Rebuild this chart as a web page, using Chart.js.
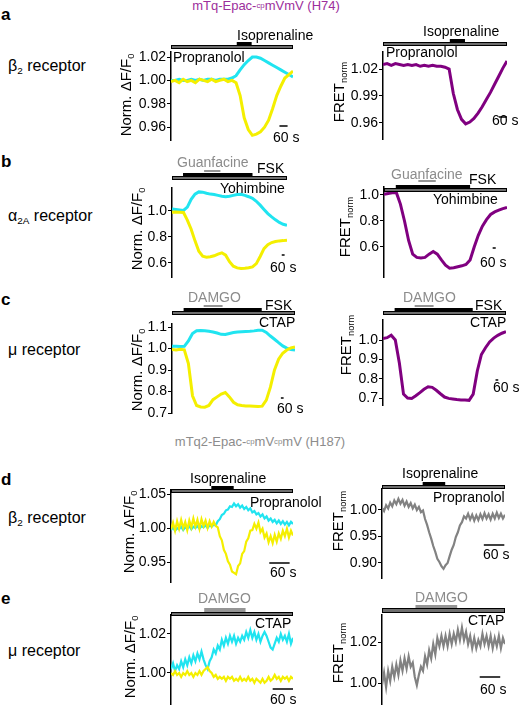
<!DOCTYPE html>
<html>
<head>
<meta charset="utf-8">
<script src="https://cdn.jsdelivr.net/npm/chart.js@4"></script>
<style>
  body { margin: 0; width: 519px; height: 705px; position: relative; overflow: hidden; background: #fff;
         font-family: "Liberation Sans", Arial, sans-serif; color: #000; }
  canvas { position: absolute; }
  .t { position: absolute; white-space: nowrap; line-height: 1; font-size: 14px; transform: translateY(-50%); z-index: 2; }
  .c { transform: translate(-50%, -50%); }
  .k { font-weight: bold; font-size: 17px; }
  .rc { font-size: 16px; }
  .g { color: #8c8c8c; }
  .r { position: absolute; white-space: nowrap; line-height: 1; font-size: 15px; z-index: 2;
       transform: translate(-50%, -50%) rotate(-90deg); }
  sub { font-size: 0.62em; vertical-align: baseline; position: relative; top: 0.3em; }
  sup { font-size: 0.6em; vertical-align: baseline; position: relative; top: -0.3em; }
</style>
</head>
<body>

<canvas id="aL"></canvas><canvas id="aR"></canvas>
<canvas id="bL"></canvas><canvas id="bR"></canvas>
<canvas id="cL"></canvas><canvas id="cR"></canvas>
<canvas id="dL"></canvas><canvas id="dR"></canvas>
<canvas id="eL"></canvas><canvas id="eR"></canvas>

<!-- titles -->
<div class="t c" style="left:266px;top:5px;font-size:13px;color:#9c2f9c">mTq-Epac-<sup>cp</sup>mVmV (H74)</div>
<div class="t c g" style="left:260px;top:441px;font-size:13px">mTq2-Epac-<sup>cp</sup>mV<sup>cp</sup>mV (H187)</div>

<!-- panel letters and receptors -->
<div class="t k" style="left:1px;top:14px">a</div>
<div class="t k" style="left:1px;top:161px">b</div>
<div class="t k" style="left:1px;top:299px">c</div>
<div class="t k" style="left:1px;top:479px">d</div>
<div class="t k" style="left:1px;top:598px">e</div>
<div class="t rc" style="left:8px;top:66px">β<sub>2</sub> receptor</div>
<div class="t rc" style="left:8px;top:216px">α<sub>2A</sub> receptor</div>
<div class="t rc" style="left:8px;top:350px">μ receptor</div>
<div class="t rc" style="left:8px;top:518px">β<sub>2</sub> receptor</div>
<div class="t rc" style="left:8px;top:651px">μ receptor</div>

<!-- axis titles -->
<div class="r" style="left:126px;top:95px">Norm. ΔF/F<sub>0</sub></div>
<div class="r" style="left:137px;top:229px">Norm. ΔF/F<sub>0</sub></div>
<div class="r" style="left:137px;top:370px">Norm. ΔF/F<sub>0</sub></div>
<div class="r" style="left:129px;top:532px">Norm. ΔF/F<sub>0</sub></div>
<div class="r" style="left:130px;top:657px">Norm. ΔF/F<sub>0</sub></div>
<div class="r" style="left:339px;top:92px">FRET<sub>norm</sub></div>
<div class="r" style="left:345px;top:227px">FRET<sub>norm</sub></div>
<div class="r" style="left:346px;top:345px">FRET<sub>norm</sub></div>
<div class="r" style="left:338px;top:521px">FRET<sub>norm</sub></div>
<div class="r" style="left:338px;top:653px">FRET<sub>norm</sub></div>

<!-- a -->
<div class="t" style="left:237px;top:35px">Isoprenaline</div>
<div class="t" style="left:173px;top:57px">Propranolol</div>
<div class="t" style="left:273px;top:137px">60 s</div>
<div class="t" style="left:423px;top:31px">Isoprenaline</div>
<div class="t" style="left:386px;top:52px">Propranolol</div>
<div class="t" style="left:492px;top:120px">60 s</div>
<!-- b -->
<div class="t g" style="left:177px;top:162px">Guanfacine</div>
<div class="t" style="left:257px;top:168px">FSK</div>
<div class="t" style="left:220px;top:188px">Yohimbine</div>
<div class="t" style="left:270px;top:267px">60 s</div>
<div class="t g" style="left:391px;top:174px">Guanfacine</div>
<div class="t" style="left:469px;top:179px">FSK</div>
<div class="t" style="left:433px;top:199px">Yohimbine</div>
<div class="t" style="left:480px;top:262px">60 s</div>
<!-- c -->
<div class="t g" style="left:188px;top:297px">DAMGO</div>
<div class="t" style="left:265px;top:305px">FSK</div>
<div class="t" style="left:259px;top:322px">CTAP</div>
<div class="t" style="left:277px;top:408px">60 s</div>
<div class="t g" style="left:403px;top:297px">DAMGO</div>
<div class="t" style="left:475px;top:305px">FSK</div>
<div class="t" style="left:470px;top:322px">CTAP</div>
<div class="t" style="left:493px;top:387px">60 s</div>
<!-- d -->
<div class="t" style="left:190px;top:478px">Isoprenaline</div>
<div class="t" style="left:250px;top:502px">Propranolol</div>
<div class="t" style="left:270px;top:572px">60 s</div>
<div class="t" style="left:402px;top:473px">Isoprenaline</div>
<div class="t" style="left:433px;top:497px">Propranolol</div>
<div class="t" style="left:483px;top:554px">60 s</div>
<!-- e -->
<div class="t g" style="left:198px;top:598px">DAMGO</div>
<div class="t" style="left:255px;top:623px">CTAP</div>
<div class="t" style="left:270px;top:699px">60 s</div>
<div class="t g" style="left:415px;top:597px">DAMGO</div>
<div class="t" style="left:468px;top:620px">CTAP</div>
<div class="t" style="left:480px;top:689px">60 s</div>

<script>
// time points (s)
const tA = [0,30,60,90,120,150,180,210,240,270,300,330,360,390,420,450,480,510,540,570,600,630,660,690,720,750,780,810,840,870,900];
const tB = [0,80,160,240,320,400,480,560,640,720,800,880,960,1040,1120,1200,1280,1360,1440,1520,1600,1680,1760,1840,1920,2000,2080,2160,2240,2320,2400];
const tC = [0,90,180,270,360,450,540,630,720,810,900,990,1080,1170,1260,1350,1440,1530,1620,1710,1800,1890,1980,2070,2160,2250,2340,2430,2520,2610,2700];
const tD = [0,6,12,18,24,30,36,42,48,54,60,66,72,78,84,90,96,102,108,114,120,126,132,138,144,150,156,162,168,174,180,
            186,192,198,204,210,216,222,228,234,240,246,252,258,264,270,276,282,288,294,300,306,312,318,324,330,336,342,348,354,360];

// a: beta2, H74
const aCyan = [1.000,1.000,1.001,1.000,1.000,1.001,1.000,1.001,1.000,1.001,1.001,1.000,1.001,1.001,1.001,1.002,1.004,1.009,1.0135,1.017,1.020,1.020,1.019,1.017,1.015,1.013,1.011,1.009,1.007,1.005,1.003];
const aYellow = [0.999,1.000,0.998,1.001,0.999,1.000,0.998,1.001,1.000,0.999,1.001,0.999,1.000,1.001,0.999,1.000,0.998,0.987,0.968,0.958,0.953,0.954,0.956,0.960,0.966,0.976,0.987,0.995,1.002,1.005,1.008];
const aFret = [1.025,1.026,1.024,1.026,1.025,1.024,1.025,1.024,1.025,1.023,1.024,1.023,1.024,1.023,1.023,1.022,1.020,0.993,0.975,0.964,0.959,0.961,0.965,0.971,0.978,0.986,0.994,1.003,1.012,1.021,1.029];

// b: alpha2A, H74
const bCyan = [1.015,1.012,1.008,1.004,1.03,1.09,1.13,1.147,1.145,1.137,1.130,1.127,1.12,1.113,1.11,1.113,1.12,1.127,1.128,1.12,1.11,1.098,1.075,1.045,1.012,0.98,0.955,0.932,0.912,0.898,0.89];
const bYellow = [0.99,0.992,0.99,0.988,0.93,0.86,0.77,0.69,0.652,0.645,0.648,0.655,0.668,0.678,0.66,0.61,0.575,0.562,0.558,0.56,0.563,0.57,0.595,0.65,0.71,0.74,0.757,0.765,0.77,0.772,0.775];
const bFret = [1.005,1.012,1.018,1.02,0.93,0.80,0.65,0.545,0.52,0.515,0.52,0.545,0.565,0.545,0.50,0.46,0.437,0.44,0.448,0.455,0.465,0.50,0.60,0.69,0.76,0.81,0.85,0.87,0.883,0.895,0.905];

// c: mu, H74
const cCyan = [1.011,1.01,1.009,1.01,1.035,1.07,1.083,1.084,1.083,1.08,1.077,1.072,1.066,1.065,1.07,1.074,1.077,1.078,1.079,1.08,1.082,1.085,1.085,1.075,1.058,1.043,1.027,1.012,1.002,0.995,0.993];
const cYellow = [0.995,0.993,0.996,0.994,0.93,0.78,0.735,0.728,0.727,0.735,0.762,0.775,0.788,0.795,0.775,0.75,0.738,0.735,0.733,0.732,0.731,0.73,0.732,0.76,0.82,0.9,0.95,0.978,0.993,1.003,1.007];
const cFret = [1.008,1.012,1.025,1.0,0.88,0.72,0.70,0.698,0.712,0.728,0.745,0.758,0.755,0.74,0.722,0.705,0.698,0.695,0.692,0.69,0.69,0.688,0.72,0.84,0.925,0.96,0.99,1.01,1.024,1.035,1.043];

// d: beta2, H187
const dCyan = [0.997,1.001,0.996,1.000,0.998,1.002,0.997,1.001,0.999,1.003,
               0.998,1.002,1.000,1.003,0.999,1.003,1.001,1.004,1.000,1.004,
               1.002,1.005,1.004,1.010,1.013,1.019,1.021,1.026,1.027,1.032,
               1.031,1.036,1.032,1.035,1.030,1.033,1.028,1.031,1.026,1.029,
               1.023,1.025,1.020,1.022,1.017,1.020,1.014,1.017,1.011,1.014,
               1.009,1.012,1.007,1.011,1.006,1.010,1.005,1.009,1.004,1.009,1.006];
const dYellow = [0.998,1.008,0.996,1.010,0.999,1.012,1.000,1.009,0.997,1.011,
                 1.001,1.014,1.002,1.012,0.999,1.013,1.003,1.011,1.000,1.010,
                 1.002,1.009,1.003,1.001,0.988,0.982,0.968,0.962,0.951,0.946,
                 0.936,0.934,0.932,0.944,0.948,0.962,0.966,0.980,0.985,0.996,
                 0.997,1.006,0.999,1.008,0.994,0.999,0.986,0.992,0.979,0.988,
                 0.978,0.990,0.980,0.992,0.984,0.996,0.988,0.999,0.986,0.996,0.989];
const dFret = [1.004,0.998,1.009,1.003,1.014,1.007,1.018,1.011,1.021,1.012,
               1.019,1.008,1.016,1.006,1.013,1.003,1.010,1.000,1.006,0.996,
               0.999,0.983,0.972,0.958,0.946,0.932,0.921,0.908,0.902,0.894,
               0.889,0.896,0.900,0.913,0.925,0.934,0.949,0.958,0.971,0.977,
               0.988,0.984,0.993,0.982,0.991,0.980,0.990,0.981,0.992,0.983,
               0.994,0.984,0.992,0.982,0.993,0.984,0.995,0.985,0.993,0.984,0.991];

// e: mu, H187
const eCyan = [1.002,1.005,1.001,1.004,1.002,1.006,1.003,1.007,1.004,1.008,
               1.005,1.009,1.006,1.010,1.007,1.011,1.007,1.004,1.002,1.006,
               1.008,1.012,1.010,1.014,1.012,1.017,1.014,1.018,1.015,1.019,
               1.016,1.019,1.015,1.018,1.016,1.019,1.017,1.021,1.018,1.022,
               1.018,1.021,1.017,1.020,1.016,1.019,1.021,1.019,1.016,1.013,
               1.012,1.015,1.018,1.016,1.020,1.017,1.019,1.016,1.020,1.015,1.018];
const eYellow = [1.000,0.999,1.001,0.999,1.000,0.998,1.000,0.999,1.001,0.999,
                 1.000,0.998,1.000,0.999,1.001,0.999,1.001,1.002,1.003,1.001,
                 1.000,0.998,0.999,0.997,0.998,0.997,0.998,0.996,0.998,0.997,
                 0.998,0.996,0.997,0.996,0.998,0.996,0.997,0.996,0.998,0.996,
                 0.997,0.995,0.997,0.996,0.995,0.997,0.995,0.996,0.998,0.996,
                 0.997,0.999,0.997,0.998,0.996,0.998,0.997,0.998,0.996,0.998,0.997];
const eFret = [0.999,1.005,0.998,1.006,1.001,1.008,1.003,1.009,1.004,1.011,
               1.006,1.012,1.007,1.013,1.008,1.010,1.003,0.999,1.004,1.008,
               1.006,1.013,1.009,1.016,1.012,1.019,1.014,1.022,1.018,1.023,
               1.018,1.023,1.018,1.024,1.019,1.024,1.020,1.026,1.021,1.027,
               1.021,1.025,1.019,1.023,1.017,1.022,1.017,1.021,1.018,1.024,
               1.019,1.023,1.018,1.023,1.017,1.022,1.018,1.023,1.017,1.022,1.019];

// drug application windows (s)
const propA = [0, 900], isoA = [485, 595];
const yohB = [0, 2400], fskB = [230, 1680], guanB = [670, 1010];
const ctapC = [0, 2700], fskC = [255, 1970], damgoC = [695, 1110];
const propD = [0, 360], isoD = [119, 185];
const ctapE = [0, 360], damgoE = [98, 220];

const CYAN = '#20e4f0', YELLOW = '#f4ef00', PURPLE = '#800080', GREY = '#828282';

Chart.defaults.font.family = '"Liberation Sans", Arial, sans-serif';

// bars above the trace + 60 s scale bar
const drugBars = {
  id: 'drugBars',
  afterDatasetsDraw(chart, args, opts) {
    const ctx = chart.ctx, xs = chart.scales.x;
    ctx.save();
    opts.bars.forEach(b => {
      const x0 = xs.getPixelForValue(b.t[0]), x1 = xs.getPixelForValue(b.t[1]);
      const y = b.y - opts.top;
      if (b.kind === 'hatch') {
        ctx.fillStyle = '#6e6e6e';
        ctx.fillRect(x0, y, x1 - x0, b.h);
        ctx.strokeStyle = '#000';
        ctx.lineWidth = 1;
        ctx.strokeRect(x0 + 0.5, y + 0.5, x1 - x0 - 1, b.h - 1);
      } else {
        ctx.fillStyle = b.kind === 'grey' ? '#959595' : '#000';
        ctx.fillRect(x0, y, x1 - x0, b.h);
      }
    });
    const s = opts.scale;
    ctx.strokeStyle = '#000';
    ctx.lineWidth = 1.5;
    ctx.beginPath();
    ctx.moveTo(xs.getPixelForValue(s.t), s.y - opts.top);
    ctx.lineTo(xs.getPixelForValue(s.t + 60), s.y - opts.top);
    ctx.stroke();
    ctx.restore();
  }
};

function trace(id, p) {
  const AX = 40, PT = 30, PB = 10, PR = 4;
  const cv = document.getElementById(id);
  cv.width = AX + (p.x1 - p.x0) + PR;
  cv.height = PT + (p.y1 - p.y0) + PB;
  cv.style.left = (p.x0 - AX) + 'px';
  cv.style.top = (p.y0 - PT) + 'px';
  new Chart(cv, {
    type: 'line',
    data: {
      datasets: p.series.map(s => ({
        data: s.t.map((t, i) => ({ x: t, y: s.v[i] })),
        borderColor: s.color,
        borderWidth: s.w,
        pointRadius: 0,
        tension: 0,
        fill: false
      }))
    },
    options: {
      responsive: false,
      animation: false,
      events: [],
      layout: { padding: { top: PT, bottom: PB, left: 0, right: PR } },
      plugins: {
        legend: { display: false },
        tooltip: { enabled: false },
        drugBars: { top: p.y0 - PT, bars: p.bars, scale: p.scale }
      },
      scales: {
        x: { type: 'linear', display: false, min: 0, max: p.T },
        y: {
          min: p.min, max: p.max,
          afterFit: sc => { sc.width = AX; },
          afterBuildTicks: sc => { sc.ticks = p.ticks.map(v => ({ value: v })); },
          ticks: { callback: v => v.toFixed(p.dec), color: '#000', font: { size: 14 }, padding: 1 },
          grid: { drawOnChartArea: false, drawTicks: true, tickLength: 4, color: '#000', lineWidth: 1 },
          border: { color: '#000', width: 1.5 }
        }
      }
    },
    plugins: [drugBars]
  });
}

trace('aL', { x0: 171, x1: 293, y0: 52, y1: 140, min: 0.949, max: 1.0243, ticks: [0.96, 0.98, 1.00, 1.02], dec: 2, T: 900,
  series: [{ t: tA, v: aYellow, color: YELLOW, w: 3 }, { t: tA, v: aCyan, color: CYAN, w: 3 }],
  bars: [{ t: propA, y: 45, h: 4, kind: 'hatch' }, { t: isoA, y: 42, h: 3, kind: 'black' }],
  scale: { t: 800, y: 126 } });
trace('aR', { x0: 383, x1: 507, y0: 52, y1: 139, min: 0.9422, max: 1.0389, ticks: [0.96, 0.99, 1.02], dec: 2, T: 900,
  series: [{ t: tA, v: aFret, color: PURPLE, w: 3 }],
  bars: [{ t: propA, y: 42, h: 4, kind: 'hatch' }, { t: isoA, y: 39, h: 3, kind: 'black' }],
  scale: { t: 840, y: 117 } });

trace('bL', { x0: 172, x1: 287, y0: 188, y1: 277, min: 0.492, max: 1.177, ticks: [0.6, 0.8, 1.0], dec: 1, T: 2400,
  series: [{ t: tB, v: bYellow, color: YELLOW, w: 3 }, { t: tB, v: bCyan, color: CYAN, w: 3 }],
  bars: [{ t: yohB, y: 176, h: 4, kind: 'hatch' }, { t: fskB, y: 173, h: 3, kind: 'black' }, { t: guanB, y: 170, h: 2, kind: 'grey' }],
  scale: { t: 2290, y: 255 } });
trace('bR', { x0: 384, x1: 507, y0: 187, y1: 277, min: 0.369, max: 1.0615, ticks: [0.6, 0.8, 1.0], dec: 1, T: 2400,
  series: [{ t: tB, v: bFret, color: PURPLE, w: 3 }],
  bars: [{ t: yohB, y: 188, h: 4, kind: 'hatch' }, { t: fskB, y: 185, h: 3, kind: 'black' }, { t: guanB, y: 180, h: 2, kind: 'grey' }],
  scale: { t: 2120, y: 248 } });

trace('cL', { x0: 172, x1: 295, y0: 324, y1: 413, min: 0.7, max: 1.114, ticks: [0.7, 0.8, 0.9, 1.0, 1.1], dec: 1, T: 2700,
  series: [{ t: tC, v: cYellow, color: YELLOW, w: 3 }, { t: tC, v: cCyan, color: CYAN, w: 3 }],
  bars: [{ t: ctapC, y: 311, h: 4, kind: 'hatch' }, { t: fskC, y: 308, h: 3, kind: 'black' }, { t: damgoC, y: 305, h: 2, kind: 'grey' }],
  scale: { t: 2390, y: 398 } });
trace('cR', { x0: 383, x1: 506, y0: 320, y1: 405, min: 0.6638, max: 1.1035, ticks: [0.7, 0.8, 0.9, 1.0], dec: 1, T: 2700,
  series: [{ t: tC, v: cFret, color: PURPLE, w: 3 }],
  bars: [{ t: ctapC, y: 311, h: 4, kind: 'hatch' }, { t: fskC, y: 308, h: 3, kind: 'black' }, { t: damgoC, y: 305, h: 2, kind: 'grey' }],
  scale: { t: 2470, y: 380 } });

trace('dL', { x0: 171, x1: 293, y0: 490, y1: 582, min: 0.9206, max: 1.0559, ticks: [0.95, 1.00, 1.05], dec: 2, T: 360,
  series: [{ t: tD, v: dYellow, color: YELLOW, w: 2.2 }, { t: tD, v: dCyan, color: CYAN, w: 2.2 }],
  bars: [{ t: propD, y: 489, h: 4, kind: 'hatch' }, { t: isoD, y: 486, h: 3, kind: 'black' }],
  scale: { t: 290, y: 563 } });
trace('dR', { x0: 382, x1: 505, y0: 489, y1: 578, min: 0.8717, max: 1.0396, ticks: [0.90, 0.95, 1.00], dec: 2, T: 360,
  series: [{ t: tD, v: dFret, color: GREY, w: 2.2 }],
  bars: [{ t: propD, y: 485, h: 4, kind: 'hatch' }, { t: isoD, y: 482, h: 3, kind: 'black' }],
  scale: { t: 298, y: 545 } });

trace('eL', { x0: 171, x1: 293, y0: 615, y1: 705, min: 0.9836, max: 1.0297, ticks: [1.00, 1.02], dec: 2, T: 360,
  series: [{ t: tD, v: eYellow, color: YELLOW, w: 2.2 }, { t: tD, v: eCyan, color: CYAN, w: 2.2 }],
  bars: [{ t: ctapE, y: 612, h: 4, kind: 'hatch' }, { t: damgoE, y: 608, h: 4, kind: 'grey' }],
  scale: { t: 300, y: 689 } });
trace('eR', { x0: 382, x1: 505, y0: 615, y1: 705, min: 0.9893, max: 1.0332, ticks: [1.00, 1.02], dec: 2, T: 360,
  series: [{ t: tD, v: eFret, color: GREY, w: 2.2 }],
  bars: [{ t: ctapE, y: 608, h: 5, kind: 'hatch' }, { t: damgoE, y: 605, h: 3, kind: 'grey' }],
  scale: { t: 286, y: 677 } });
</script>
</body>
</html>
